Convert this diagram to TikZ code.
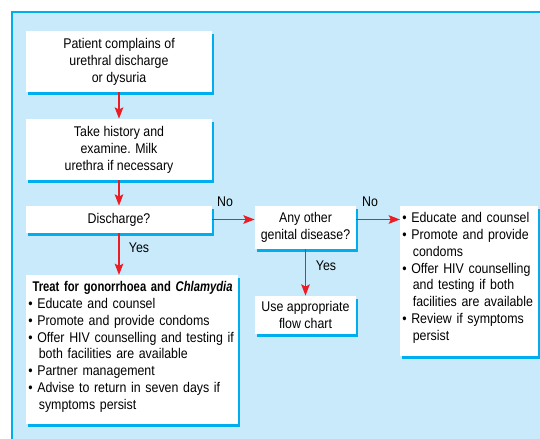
\documentclass[tikz,border=0pt]{standalone}
\usepackage{fontspec}
\setmainfont{Liberation Sans}[FakeStretch=0.88]
\newfontfamily\narrowfont{Liberation Sans}[FakeStretch=0.8]
\usetikzlibrary{arrows.meta,shadows}

\definecolor{panelblue}{HTML}{C8EAFA}
\definecolor{edgecyan}{HTML}{00AEEF}
\definecolor{flowred}{HTML}{ED1C24}
\newcommand{\bulitem}{\noindent\hangindent=0.75em\hangafter=1\textbullet\ }

\begin{document}
\begin{tikzpicture}[x=0.025cm, y=-0.025cm,
	box/.style={fill=white, align=center, inner sep=0, font=\fontsize{10}{12}\selectfont, drop shadow={shadow xshift=0.05cm, shadow yshift=-0.075cm, fill=edgecyan, opacity=1}},
	listbox/.style={box, align=left, anchor=north west, inner xsep=0.05cm, inner ysep=0.15cm, execute at begin node={\hyphenpenalty=10000}},
	lbl/.style={font=\fontsize{10}{12}\selectfont, inner sep=0},
	redline/.style={->, draw=flowred, line width=1.4pt},
	>={Stealth[length=8pt,width=6pt,inset=1.5pt]}]
				\useasboundingbox (0,0) rectangle (540,439);
				\fill[panelblue] (12,12) rectangle (540,439);
				\draw[edgecyan, line width=1.4pt] (12,439) -- (12,12) -- (540,12);
				\node[box, minimum width=4.65cm, minimum height=1.525cm] (complaint) at (119,61.5) {Patient complains of\\urethral discharge\\or dysuria};
				\node[box, minimum width=4.65cm, minimum height=1.525cm] (history) at (119,149.5) {Take history and\\examine. Milk\\urethra if necessary};
				\node[box, minimum width=4.65cm, minimum height=0.675cm] (discharge) at (119,219.5) {Discharge?};
				\node[box, minimum width=2.525cm, minimum height=1.075cm] (other) at (305.5,227.5) {Any other\\genital disease?};
				\node[box, minimum width=2.525cm, minimum height=0.95cm] (flowchart) at (305.5,315) {Use appropriate\\flow chart};
				\node[listbox, text width=5.2cm] (treat) at (26,275) {\noindent\hspace*{3pt}\mbox{\narrowfont\bfseries Treat for gonorrhoea and \itshape Chlamydia}\par
					\bulitem Educate and counsel\par
					\bulitem Promote and provide condoms\par
					\bulitem Offer HIV counselling and testing if\newline both facilities are available\par
					\bulitem Partner management\par
					\bulitem Advise to return in seven days if\newline symptoms persist\rule[-6pt]{0pt}{6pt}\par};
				\node[listbox, text width=3.35cm] (counsel) at (400,206) {\bulitem Educate and counsel\par
					\bulitem Promote and provide\newline condoms\par
					\bulitem Offer HIV counselling\newline and testing if both\newline facilities are available\par
					\bulitem Review if symptoms\newline persist\rule[-7pt]{0pt}{7pt}\par};
				% connectors
				\draw[redline] (complaint) -- (history);
				\draw[redline] (history) -- (discharge);
				\draw[redline] (discharge) -- (discharge -| other.west);
				\draw[redline] (other.east |- discharge) -- (counsel.west |- discharge);
				\draw[redline] (other) -- (flowchart);
				\draw[redline] (discharge) -- (discharge |- treat.north);
				\node[lbl] (no1) at (225,202) {No};
				\node[lbl] (no2) at (370,202) {No};
				\node[lbl] (yes1) at (139,248) {Yes};
				\node[lbl] (yes2) at (326,266) {Yes};
			\end{tikzpicture}
\end{document}
